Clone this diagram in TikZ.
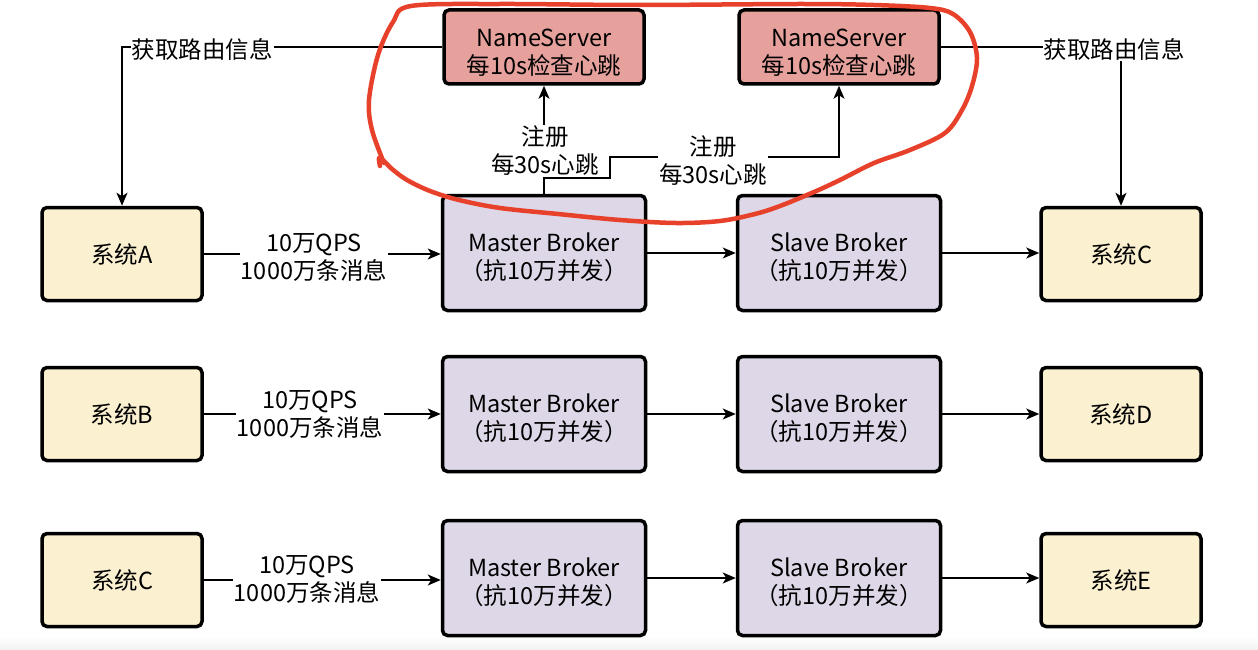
\documentclass[tikz,border=0pt]{standalone}
\usepackage{fontspec}
\setmainfont{Noto Sans CJK SC}
\usetikzlibrary{arrows.meta}
\definecolor{nsfill}{HTML}{E6A19C}
\definecolor{brkfill}{HTML}{DED7E7}
\definecolor{sysfill}{HTML}{FBF0CF}
\definecolor{penred}{HTML}{E8412B}
\newcommand\lowstrut{\rule{0pt}{28pt}}
\begin{document}
\begin{tikzpicture}[x=1pt,y=-1pt,
  txt/.style={font=\fontsize{23.5}{28}\selectfont},
  box/.style={txt, draw, line width=3.5pt, rounded corners=5pt, align=center, inner sep=0pt},
  nsbox/.style={box, fill=nsfill, minimum width=200pt, minimum height=74pt},
  brkbox/.style={box, fill=brkfill, minimum width=203pt, minimum height=115pt},
  sysbox/.style={box, fill=sysfill, minimum width=160pt, minimum height=93pt},
  conn/.style={line width=1.6pt, -{Stealth[length=13pt,width=11pt,inset=3.5pt]}},
  lbl/.style={txt, fill=white, inner sep=1pt, align=center},
  pen/.style={draw=penred, line width=4.5pt, line cap=round, line join=round}
]
\useasboundingbox (0,0) rectangle (1258,650);
\fill[white] (0,0) rectangle (1258,650);
\shade[top color=white, bottom color=black!5] (0,636) rectangle (1258,650);

% NameServers
\node[nsbox] (ns1) at (544,47) {\lowstrut NameServer\\每10s检查心跳};
\node[nsbox] (ns2) at (839,47) {\lowstrut NameServer\\每10s检查心跳};

% row 1
\node[sysbox] (sA) at (122,254) {系统A};
\node[brkbox] (m1) at (544,253) {\lowstrut Master Broker\\（抗10万并发）};
\node[brkbox] (s1) at (839,253) {\lowstrut Slave Broker\\（抗10万并发）};
\node[sysbox] (sC1) at (1121,254) {系统C};
% row 2
\node[sysbox] (sB) at (122,414) {系统B};
\node[brkbox] (m2) at (544,414) {\lowstrut Master Broker\\（抗10万并发）};
\node[brkbox] (s2) at (839,414) {\lowstrut Slave Broker\\（抗10万并发）};
\node[sysbox] (sD) at (1121,414) {系统D};
% row 3
\node[sysbox] (sC2) at (122,580) {系统C};
\node[brkbox] (m3) at (544,578) {\lowstrut Master Broker\\（抗10万并发）};
\node[brkbox] (s3) at (839,578) {\lowstrut Slave Broker\\（抗10万并发）};
\node[sysbox] (sE) at (1121,580) {系统E};

% row edges
\draw[conn] (sA.east) -- (sA.east -| m1.west);
\draw[conn] (m1.east) -- (s1.west);
\draw[conn] (s1.east) -- (s1.east -| sC1.west);
\draw[conn] (sB.east) -- (m2.west);
\draw[conn] (m2.east) -- (s2.west);
\draw[conn] (s2.east) -- (sD.west);
\draw[conn] (sC2.east) -- (sC2.east -| m3.west);
\draw[conn] (m3.east) -- (s3.west);
\draw[conn] (s3.east) -- (s3.east -| sE.west);

\node[lbl] (q1) at (314,257) {10万QPS\\1000万条消息};
\node[lbl] (q2) at (310,414) {10万QPS\\1000万条消息};
\node[lbl] (q3) at (307,579) {10万QPS\\1000万条消息};

% routing info
\draw[conn] (ns1.west) -| (sA.north);
\node[lbl] (r1) at (202,49) {获取路由信息};
\draw[conn] (ns2.east) -| (sC1.north);
\node[lbl] (r2) at (1114,49) {获取路由信息};

% registration
\draw[conn] (m1.north) -- (ns1.south);
\node[lbl] (g1) at (545,151) {注册\\每30s心跳};
\coordinate (k1) at (610,157);
\draw[conn] (m1.north) -- ++(0,-16) -| (k1) -- (k1 -| ns2.south) -- (ns2.south);
\node[lbl] (g2) at (713,161) {注册\\每30s心跳};

% red annotation
\draw[pen] plot[smooth, tension=0.55] coordinates {
 (384,163) (372,130) (369,100) (378,55) (393,22) (411,6) (500,4) (637,5) (800,4)
 (874,5) (930,8) (953,14) (970,32) (977,58) (972,86) (962,110) (945,133) (910,150)
 (874,163) (840,180) (814,192) (780,206) (755,214) (720,221) (676,223) (620,220)
 (558,214) (500,208) (459,200) (430,191) (407,180) (392,169) (384,161) (379,158) (380,166)};
\end{tikzpicture}
\end{document}
